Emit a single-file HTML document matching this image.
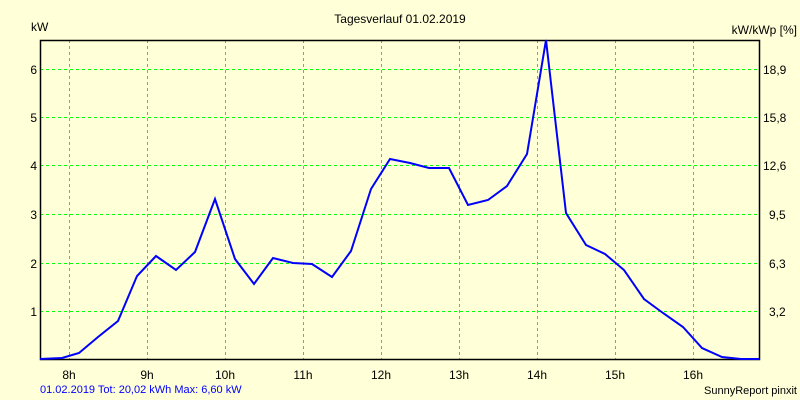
<!DOCTYPE html>
<html><head><meta charset="utf-8"><style>
body{margin:0;background:#ffffd8;}
svg{display:block;font-family:"Liberation Sans",sans-serif;font-size:12px;}
</style></head><body>
<svg width="800" height="400" viewBox="0 0 800 400">
<rect width="800" height="400" fill="#ffffd8"/>
<g stroke="#00ff00" stroke-dasharray="3,3" stroke-width="1">
<line x1="69.5" y1="40" x2="69.5" y2="359"/><line x1="147.5" y1="40" x2="147.5" y2="359"/>
<line x1="225.5" y1="40" x2="225.5" y2="359"/><line x1="303.5" y1="40" x2="303.5" y2="359"/>
<line x1="381.5" y1="40" x2="381.5" y2="359"/><line x1="459.5" y1="40" x2="459.5" y2="359"/>
<line x1="537.5" y1="40" x2="537.5" y2="359"/><line x1="615.5" y1="40" x2="615.5" y2="359"/>
<line x1="693.5" y1="40" x2="693.5" y2="359"/>
<line x1="40" y1="69.5" x2="759" y2="69.5"/><line x1="40" y1="117.5" x2="759" y2="117.5"/>
<line x1="40" y1="165.5" x2="759" y2="165.5"/><line x1="40" y1="214.5" x2="759" y2="214.5"/>
<line x1="40" y1="263.5" x2="759" y2="263.5"/><line x1="40" y1="311.5" x2="759" y2="311.5"/>
</g>
<rect x="40.5" y="40.5" width="719" height="319" fill="none" stroke="#000" stroke-width="1.5"/>
<polyline fill="none" stroke="#0000ff" stroke-width="2" points="40,359 62,358 79,353 98,337 118,321 137,276 156,256 176,270 195,252 215,199 235,259 254,284 273,258 293,263 312,264 332,277 351,251 371,189 390,159 410,163 429,168 449,168 468,205 488,200 507,186 527,154 546,40 566,213 586,245 605,254 624,270 644,299 663,313 683,327 702,348 722,357 741,359 759,359"/>
<g fill="#000">
<text x="400" y="23" text-anchor="middle">Tagesverlauf 01.02.2019</text>
<text x="31" y="31">kW</text>
<text x="797" y="34" text-anchor="end">kW/kWp [%]</text>
<g text-anchor="end">
<text x="37" y="74">6</text><text x="37" y="122">5</text><text x="37" y="170">4</text>
<text x="37" y="219">3</text><text x="37" y="268">2</text><text x="37" y="316">1</text>
</g>
<g>
<text x="763" y="74">18,9</text><text x="763" y="122">15,8</text><text x="763" y="170">12,6</text>
<text x="769" y="219">9,5</text><text x="769" y="268">6,3</text><text x="769" y="316">3,2</text>
</g>
<g text-anchor="middle">
<text x="69" y="379">8h</text><text x="147" y="379">9h</text><text x="225" y="379">10h</text>
<text x="303" y="379">11h</text><text x="381" y="379">12h</text><text x="459" y="379">13h</text>
<text x="537" y="379">14h</text><text x="615" y="379">15h</text><text x="693" y="379">16h</text>
</g>
<text x="797" y="394" text-anchor="end" font-size="11">SunnyReport pinxit</text>
</g>
<text x="40" y="393" fill="#0000ff" font-size="11">01.02.2019 Tot: 20,02 kWh Max: 6,60 kW</text>
</svg>
</body></html>
